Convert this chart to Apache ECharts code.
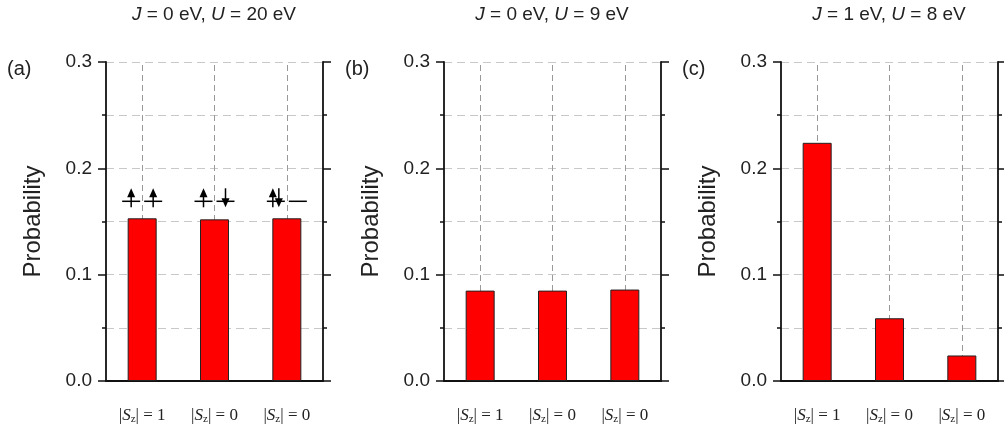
<!DOCTYPE html>
<html>
<head>
<meta charset="utf-8">
<script src="https://cdn.jsdelivr.net/npm/echarts@6/dist/echarts.min.js"></script>
<style>
  html, body { margin: 0; padding: 0; background: #fff; }
  #main { width: 1004px; height: 432px; }
</style>
</head>
<body>
<div id="main"></div>
<script>
// data
var categories = ['|S_z| = 1', '|S_z| = 0', '|S_z| = 0'];
var probA = [0.153, 0.152, 0.153];
var probB = [0.085, 0.085, 0.086];
var probC = [0.224, 0.059, 0.024];
var panelTitles = ['{i|J} = 0 eV, {i|U} = 20 eV', '{i|J} = 0 eV, {i|U} = 9 eV', '{i|J} = 1 eV, {i|U} = 8 eV'];
var panelLabels = ['(a)', '(b)', '(c)'];
// spin occupations of the two orbitals drawn above panel (a) bars
var spinLevel = 0.169;
var spinConfigs = [[['u'], ['u']], [['u'], ['d']], [['u', 'd'], []]];

var chart = echarts.init(document.getElementById('main'));

var gridLefts = [106, 444, 781];
var axisColor = '#111';
var sansFont = 'Liberation Sans, Arial, sans-serif';
var serifFont = 'Liberation Serif, Times New Roman, serif';

var grids = [], xAxes = [], yAxes = [], series = [], titles = [];
var allProb = [probA, probB, probC];

for (var i = 0; i < 3; i++) {
  grids.push({ left: gridLefts[i], top: 62, width: 217, height: 319 });
  // bottom category axis
  xAxes.push({
    type: 'category', gridIndex: i, data: categories, position: 'bottom',
    axisLine: { lineStyle: { color: axisColor, width: 1.8 } },
    axisTick: { alignWithLabel: true, length: 8, lineStyle: { color: axisColor, width: 1.5 } },
    axisLabel: {
      interval: 0, margin: 25, color: '#222', fontFamily: serifFont, fontSize: 17, lineHeight: 20,
      formatter: function (v) { return v.replace('S_z', '{i|S}{s|z}'); },
      rich: {
        i: { fontFamily: serifFont, fontStyle: 'italic', fontSize: 17, color: '#222', lineHeight: 20 },
        s: { fontFamily: serifFont, fontSize: 11, color: '#222', lineHeight: 12, padding: [7, 0, 0, 0] }
      }
    },
    splitLine: { show: false }
  });
  // top mirror axis
  xAxes.push({
    type: 'category', gridIndex: i, data: categories, position: 'top',
    axisLine: { lineStyle: { color: axisColor, width: 1.8 } },
    axisTick: { alignWithLabel: true, interval: 0, length: 8, lineStyle: { color: axisColor, width: 1.5 } },
    axisLabel: { show: false, interval: 0 },
    splitLine: { show: false }
  });
  var yBase = {
    type: 'value', gridIndex: i, min: 0, max: 0.3, interval: 0.1,
    axisLine: { show: true, lineStyle: { color: axisColor, width: 1.8 } },
    axisTick: { show: true, length: 8, lineStyle: { color: axisColor, width: 1.5 } },
    minorTick: { show: true, splitNumber: 2, length: 4, lineStyle: { color: axisColor, width: 1.5 } }
  };
  yAxes.push(Object.assign({}, yBase, {
    position: 'left',
    name: 'Probability', nameLocation: 'middle', nameGap: 61,
    nameTextStyle: { fontFamily: sansFont, fontSize: 24, color: '#222' },
    axisLabel: {
      margin: 14, fontFamily: sansFont, fontSize: 19, color: '#222',
      formatter: function (v) { return v.toFixed(1); }
    },
    splitLine: { show: true, lineStyle: { color: '#c8c8c8', type: [8, 5], width: 1 } },
    minorSplitLine: { show: true, lineStyle: { color: '#c8c8c8', type: [8, 5], width: 1 } }
  }));
  yAxes.push(Object.assign({}, yBase, {
    position: 'right',
    axisLabel: { show: false },
    splitLine: { show: false }
  }));

  series.push({
    type: 'bar', xAxisIndex: 2 * i, yAxisIndex: 2 * i,
    data: allProb[i], barWidth: 29,
    itemStyle: { color: '#ff0000', borderColor: '#222', borderWidth: 1 },
    markLine: {
      silent: true, z: 1, symbol: ['none', 'none'],
      label: { show: false },
      lineStyle: { color: '#999', type: [6, 4], width: 1 },
      data: [{ xAxis: 0 }, { xAxis: 1 }, { xAxis: 2 }]
    }
  });

  titles.push({
    text: panelTitles[i], left: gridLefts[i] + 108, top: 5, textAlign: 'center', padding: 0,
    textStyle: {
      fontFamily: sansFont, fontSize: 19, fontWeight: 'normal', color: '#222',
      rich: { i: { fontFamily: sansFont, fontSize: 19, fontStyle: 'italic', color: '#222' } }
    }
  });
  titles.push({
    text: panelLabels[i], left: gridLefts[i] - 99, top: 59, padding: 0,
    textStyle: { fontFamily: sansFont, fontSize: 20, fontWeight: 'normal', color: '#222' }
  });
}

// spin arrows above panel (a)
function arrow(x, y, up) {
  var tipY = up ? y - 13 : y + 6;
  var endY = up ? y + 6 : y - 13;
  var dir = up ? 1 : -1;
  return [
    { type: 'line', shape: { x1: x, y1: endY, x2: x, y2: tipY + dir * 7 }, style: { stroke: '#000', lineWidth: 1.5 } },
    { type: 'polygon', shape: { points: [[x, tipY], [x - 4, tipY + dir * 9], [x + 4, tipY + dir * 9]] }, style: { fill: '#000' } }
  ];
}
series.push({
  type: 'custom', xAxisIndex: 0, yAxisIndex: 0, z: 5, silent: true,
  data: spinConfigs.map(function (c, k) { return [k, spinLevel]; }),
  renderItem: function (params, api) {
    var p = api.coord([api.value(0), api.value(1)]);
    var cfg = spinConfigs[params.dataIndex];
    var children = [];
    var segs = [[-20, -2], [2, 20]];
    for (var o = 0; o < 2; o++) {
      var x0 = p[0] + segs[o][0], x1 = p[0] + segs[o][1];
      children.push({ type: 'line', shape: { x1: x0, y1: p[1], x2: x1, y2: p[1] }, style: { stroke: '#000', lineWidth: 1.5 } });
      var spins = cfg[o];
      var mid = (x0 + x1) / 2;
      if (spins.length === 1) {
        children = children.concat(arrow(mid, p[1], spins[0] === 'u'));
      } else if (spins.length === 2) {
        children = children.concat(arrow(mid - 3, p[1], true));
        children = children.concat(arrow(mid + 3, p[1], false));
      }
    }
    return { type: 'group', children: children };
  }
});

chart.setOption({
  animation: false,
  backgroundColor: '#fff',
  title: titles,
  grid: grids,
  xAxis: xAxes,
  yAxis: yAxes,
  series: series
});
</script>
</body>
</html>
